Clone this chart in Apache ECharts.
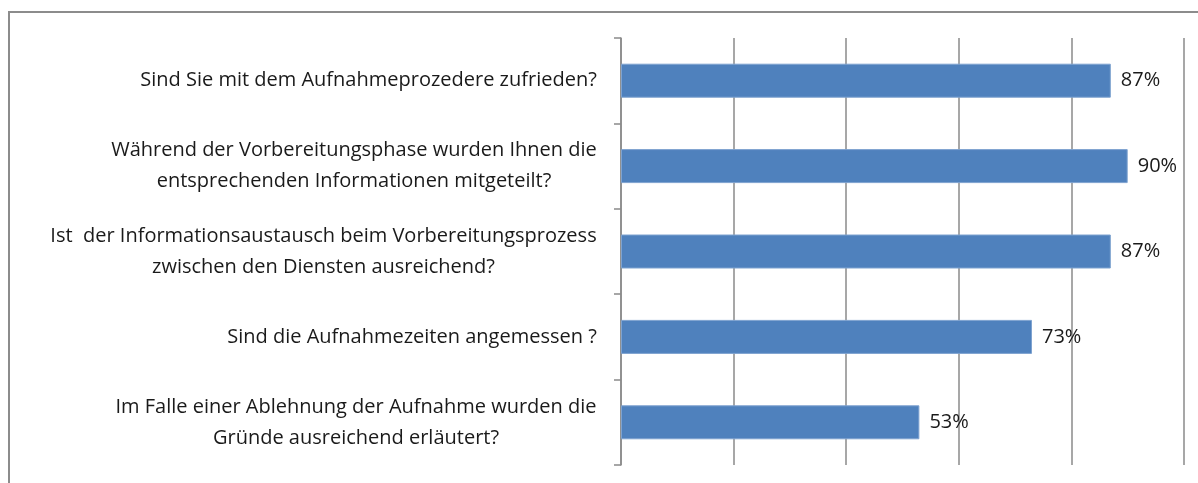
<!DOCTYPE html>
<html>
<head>
<meta charset="utf-8">
<script src="https://cdn.jsdelivr.net/npm/echarts@6/dist/echarts.min.js"></script>
<style>
  html, body { margin: 0; padding: 0; background: #fff; }
  #chart { width: 1198px; height: 483px; }
</style>
</head>
<body>
<div id="chart"></div>
<script>
// Fragen (von oben nach unten)
let questions = [
    "Sind Sie mit dem Aufnahmeprozedere zufrieden?",
    "Während der Vorbereitungsphase wurden Ihnen die\nentsprechenden Informationen mitgeteilt?",
    "Ist  der Informationsaustausch beim Vorbereitungsprozess\nzwischen den Diensten ausreichend?",
    "Sind die Aufnahmezeiten angemessen ?",
    "Im Falle einer Ablehnung der Aufnahme wurden die\nGründe ausreichend erläutert?"
];
let percentValues = [87, 90, 87, 73, 53];
let axisTicks = [0, 20, 40, 60, 80, 100];

let labelFont = "Open Sans";
let labelSize = 20;

// breite der längsten zeile messen, damit die zeilen zentriert untereinander stehen
let measureCtx = document.createElement("canvas").getContext("2d");
measureCtx.font = labelSize + "px \"" + labelFont + "\"";
let richStyles = {};
questions.forEach((q, i) => {
    let w = Math.max(...q.split("\n").map(l => measureCtx.measureText(l).width));
    richStyles["q" + i] = {
        width: Math.ceil(w) + 2,
        align: "center",
        fontFamily: labelFont,
        fontSize: labelSize,
        lineHeight: 31,
        color: "#1a1a1a"
    };
});

let chartDom = document.getElementById("chart");
let chart = echarts.init(chartDom);
let option = {
    animation: false,
    graphic: [
        {
            type: "rect",
            shape: { x: 9, y: 12, width: 1200, height: 480 },
            style: { fill: "none", stroke: "#8c8c8c", lineWidth: 2 }
        }
    ],
    grid: {
        left: 621,
        right: 14,
        top: 38,
        bottom: 18
    },
    xAxis: {
        type: "value",
        min: axisTicks[0],
        max: axisTicks[axisTicks.length - 1],
        interval: 20,
        axisLabel: { show: false },
        axisLine: { show: false },
        axisTick: { show: false },
        splitLine: { lineStyle: { color: "#8a8a8a", width: 1.5 } }
    },
    yAxis: {
        type: "category",
        inverse: true,
        data: questions,
        axisLine: { show: true, lineStyle: { color: "#8a8a8a", width: 1.5 } },
        axisTick: { show: true, length: 7, lineStyle: { color: "#8a8a8a", width: 1.5 } },
        axisLabel: {
            margin: 23,
            formatter: (value, index) => value.split("\n").map(l => "{q" + index + "|" + l + "}").join("\n"),
            rich: richStyles
        }
    },
    series: [
        {
            type: "bar",
            data: percentValues,
            barWidth: 34,
            itemStyle: {
                color: "#4f81bd",
                borderColor: "#7fa3d0",
                borderWidth: 1
            },
            label: {
                show: true,
                position: "right",
                distance: 10,
                formatter: "{c}%",
                fontFamily: labelFont,
                fontSize: labelSize,
                color: "#1a1a1a"
            }
        }
    ]
};
option && chart.setOption(option);
</script>
</body>
</html>
